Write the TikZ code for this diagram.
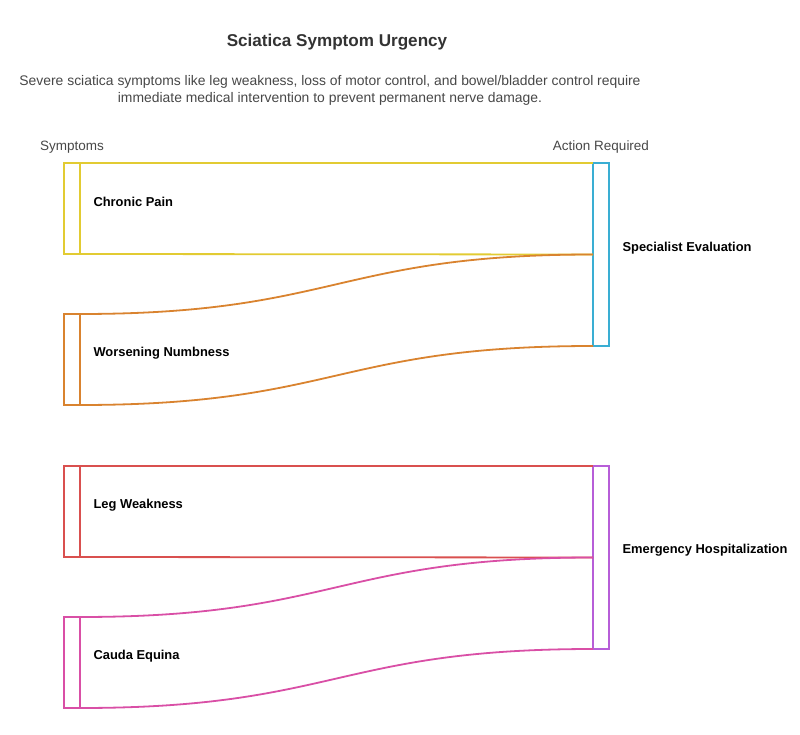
\documentclass[tikz,border=0pt]{standalone}
\usepackage{fontspec}
\setmainfont{Liberation Sans}
\usepackage{tikz}
\usetikzlibrary{positioning}
\definecolor{cpain}{HTML}{E2CB32}
\definecolor{numb}{HTML}{D9832F}
\definecolor{legw}{HTML}{D9504F}
\definecolor{cauda}{HTML}{D94FA6}
\definecolor{spec}{HTML}{3AAED3}
\definecolor{emerg}{HTML}{B75ED8}
\colorlet{txtgray}{black!72}

\begin{document}
\begin{tikzpicture}[x=1pt, y=-1pt,
  bar/.style={draw, line width=1.8pt, minimum width=16pt, inner sep=0pt, outer sep=0pt, anchor=north west},
  flow/.style={line width=1.8pt},
  lbl/.style={font=\fontsize{12.9}{15}\selectfont\bfseries, anchor=west},
  head/.style={font=\fontsize{13.5}{16}\selectfont, text=txtgray}]
  \useasboundingbox (0, 0) rectangle (800, 735);
  \node[font=\fontsize{17.1}{20}\selectfont\bfseries, text=black!80] (title) at (337, 42) {Sciatica Symptom Urgency};
  \node[head, align=center, font=\fontsize{13.9}{17}\selectfont] (sub) at (330, 90)
    {Severe sciatica symptoms like leg weakness, loss of motor control, and bowel/bladder control require\\
     immediate medical intervention to prevent permanent nerve damage.};
  \node[head] (symhead) at (72, 147) {Symptoms};
  \node[head] (acthead) at (601, 147) {Action Required};
  \foreach \n/\y/\c/\t in {chronic/163/cpain/Chronic Pain, numbness/314/numb/Worsening Numbness,
      weakness/466/legw/Leg Weakness, equina/617/cauda/Cauda Equina} {
    \node[bar, draw=\c, minimum height=91pt] (\n) at (64, \y) {};
    \node[lbl] (\n lbl) at (90, \y+39) {\t};
  }
  \node[bar, draw=spec, minimum height=183pt] (specialist) at (593, 163) {};
  \node[bar, draw=emerg, minimum height=183pt] (emergency) at (593, 466) {};
  \node[lbl] (specialistlbl) at (619, 248) {Specialist Evaluation};
  \node[lbl] (emergencylbl) at (619, 550) {Emergency Hospitalization};
  \draw[flow, cpain] (chronic.north east) -- (specialist.north west);
  \draw[flow, cpain] (chronic.south east) -- (specialist.west);
  \draw[flow, numb] (numbness.north east) .. controls +(256, 0) and +(-256, 0) .. (specialist.west);
  \draw[flow, numb] (numbness.south east) .. controls +(256, 0) and +(-256, 0) .. (specialist.south west);
  \draw[flow, legw] (weakness.north east) -- (emergency.north west);
  \draw[flow, legw] (weakness.south east) -- (emergency.west);
  \draw[flow, cauda] (equina.north east) .. controls +(256, 0) and +(-256, 0) .. (emergency.west);
  \draw[flow, cauda] (equina.south east) .. controls +(256, 0) and +(-256, 0) .. (emergency.south west);
\end{tikzpicture}
\end{document}
